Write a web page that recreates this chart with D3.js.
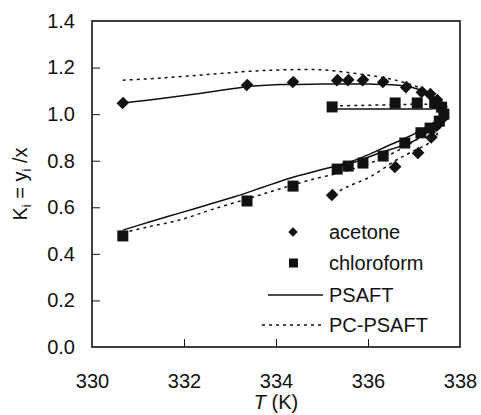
<!DOCTYPE html>
<html>
<head>
<meta charset="utf-8">
<script src="https://cdn.jsdelivr.net/npm/d3@7"></script>
<style>
  body { margin: 0; background: #fff; }
  svg text { font-family: "Liberation Sans", Arial, sans-serif; fill: #111; }
</style>
</head>
<body>
<svg id="chart" width="481" height="415"></svg>
<script>
// experimental points (T in K, K value)
var acetoneT = [330.67, 333.37, 334.37, 335.33, 335.57, 335.89, 336.33, 336.83, 337.17, 337.35,
                337.5, 337.6, 337.62, 337.5, 337.38, 337.09, 336.59, 335.22];
var acetoneK = [1.048, 1.125, 1.138, 1.146, 1.146, 1.146, 1.138, 1.116, 1.095, 1.086,
                1.06, 1.03, 0.98, 0.95, 0.90, 0.833, 0.773, 0.653];
var chloroT = [330.67, 333.37, 334.37, 335.33, 335.57, 335.89, 336.33, 336.8, 337.15, 337.35,
               337.55, 337.65, 337.6, 337.45, 337.07, 336.59, 335.22];
var chloroK = [0.477, 0.627, 0.691, 0.764, 0.777, 0.79, 0.82, 0.876, 0.92, 0.94,
               0.97, 1.0, 1.03, 1.05, 1.048, 1.048, 1.031];

// model curves, listed along the curve
var psaftAcetoneT = [330.67, 331.2, 332.0, 332.63, 333.37, 334.1, 335.0, 336.0, 336.6, 337.0, 337.3, 337.5, 337.62, 337.67,
                     337.62, 337.45, 337.0, 336.2, 335.8, 335.22];
var psaftAcetoneK = [1.048, 1.06, 1.08, 1.097, 1.118, 1.127, 1.129, 1.129, 1.125, 1.112, 1.09, 1.06, 1.03, 1.005,
                     0.98, 0.95, 0.885, 0.83, 0.80, 0.765];
var psaftChloroT = [330.67, 331.3, 331.9, 332.5, 333.1, 333.7, 334.3, 335.0, 335.54, 336.0, 336.41, 336.9, 337.3, 337.55, 337.67,
                    337.6, 337.3, 336.5, 335.22];
var psaftChloroK = [0.502, 0.54, 0.575, 0.61, 0.645, 0.685, 0.725, 0.762, 0.79, 0.825, 0.862, 0.905, 0.95, 0.98, 1.01,
                    1.022, 1.022, 1.022, 1.022];
var pcAcetoneT = [330.67, 331.5, 332.5, 333.5, 334.1, 335.0, 335.9, 336.6, 337.15, 337.45, 337.62, 337.67,
                  337.57, 337.41, 336.9, 336.59, 336.04, 335.54, 335.22];
var pcAcetoneK = [1.146, 1.155, 1.17, 1.185, 1.19, 1.19, 1.17, 1.146, 1.11, 1.07, 1.03, 1.0,
                  0.945, 0.889, 0.833, 0.8, 0.73, 0.687, 0.653];
var pcChloroT = [330.67, 331.2, 331.9, 332.6, 333.37, 334.0, 334.7, 335.6, 336.3, 336.8, 337.2, 337.5, 337.67,
                 337.6, 337.3, 336.5, 335.22];
var pcChloroK = [0.49, 0.515, 0.545, 0.59, 0.636, 0.674, 0.715, 0.76, 0.81, 0.86, 0.91, 0.96, 1.01,
                 1.035, 1.042, 1.04, 1.035];

var xTicks = [330, 332, 334, 336, 338];
var yTicks = [0, 0.2, 0.4, 0.6, 0.8, 1.0, 1.2, 1.4];
var legendLabels = ["acetone", "chloroform", "PSAFT", "PC-PSAFT"];

var plotLeft = 92, plotRight = 460, plotTop = 21, plotBottom = 347;
var svg = d3.select("#chart");

var x = d3.scaleLinear().domain([330, 338]).range([plotLeft, plotRight]);
var y = d3.scaleLinear().domain([0, 1.4]).range([plotBottom, plotTop]);

// frame
svg.append("rect")
    .attr("x", plotLeft).attr("y", plotTop)
    .attr("width", plotRight - plotLeft).attr("height", plotBottom - plotTop)
    .attr("fill", "none").attr("stroke", "#111").attr("stroke-width", 1.6);

// axes with inward ticks
var xAxis = svg.append("g").attr("transform", "translate(0," + plotBottom + ")")
    .call(d3.axisBottom(x).tickValues(xTicks).tickSizeInner(-8).tickSizeOuter(0).tickFormat(d3.format("d")));
var yAxis = svg.append("g").attr("transform", "translate(" + plotLeft + ",0)")
    .call(d3.axisLeft(y).tickValues(yTicks).tickSizeInner(-8).tickSizeOuter(0).tickFormat(d3.format(".1f")));

[xAxis, yAxis].forEach(function(g) {
  g.select(".domain").remove();
  g.selectAll(".tick line").attr("stroke", "#111").attr("stroke-width", 1);
  g.selectAll(".tick text")
    .attr("font-size", 20)
    .attr("font-family", "'Liberation Sans', Arial, sans-serif")
    .attr("fill", "#111");
});
xAxis.selectAll(".tick text").attr("y", 27).attr("dy", "0.71em");
yAxis.selectAll(".tick text").attr("x", -17);
// hide the tick mark at the frame corners
xAxis.selectAll(".tick line").filter(function(d) { return d === 330 || d === 338; }).remove();
yAxis.selectAll(".tick line").filter(function(d) { return d === 0 || d === 1.4; }).remove();

// curves
var line = d3.line()
    .x(function(d) { return x(d[0]); })
    .y(function(d) { return y(d[1]); })
    .curve(d3.curveCatmullRom.alpha(0.5));

function pairs(ts, ks) { return ts.map(function(t, i) { return [t, ks[i]]; }); }

var curves = [
  { d: pairs(psaftAcetoneT, psaftAcetoneK), dash: null },
  { d: pairs(psaftChloroT, psaftChloroK), dash: null },
  { d: pairs(pcAcetoneT, pcAcetoneK), dash: "3,4" },
  { d: pairs(pcChloroT, pcChloroK), dash: "3,4" }
];
svg.selectAll("path.curve")
    .data(curves)
  .enter().append("path")
    .attr("class", "curve")
    .attr("d", function(c) { return line(c.d); })
    .attr("fill", "none")
    .attr("stroke", "#111")
    .attr("stroke-width", 1.5)
    .attr("stroke-dasharray", function(c) { return c.dash; });

// markers: diamonds are squares turned 45 degrees
var diamond = d3.symbol().type(d3.symbolSquare).size(72);
svg.selectAll("path.acetone")
    .data(pairs(acetoneT, acetoneK))
  .enter().append("path")
    .attr("class", "acetone")
    .attr("d", diamond)
    .attr("transform", function(d) { return "translate(" + x(d[0]) + "," + y(d[1]) + ") rotate(45) scale(1,1.1)"; })
    .attr("fill", "#111");

svg.selectAll("rect.chloro")
    .data(pairs(chloroT, chloroK))
  .enter().append("rect")
    .attr("class", "chloro")
    .attr("x", function(d) { return x(d[0]) - 5.5; })
    .attr("y", function(d) { return y(d[1]) - 5.5; })
    .attr("width", 11).attr("height", 11)
    .attr("fill", "#111");

// legend
var leg = svg.append("g");
var rowY = [232, 263, 295, 325];
leg.append("path")
    .attr("d", d3.symbol().type(d3.symbolSquare).size(44))
    .attr("transform", "translate(293," + rowY[0] + ") rotate(45)")
    .attr("fill", "#111");
leg.append("rect")
    .attr("x", 289).attr("y", rowY[1] - 4.5).attr("width", 9).attr("height", 9)
    .attr("fill", "#111");
leg.append("line")
    .attr("x1", 268).attr("x2", 323).attr("y1", rowY[2]).attr("y2", rowY[2])
    .attr("stroke", "#111").attr("stroke-width", 1.5);
leg.append("line")
    .attr("x1", 262).attr("x2", 321).attr("y1", rowY[3]).attr("y2", rowY[3])
    .attr("stroke", "#111").attr("stroke-width", 1.5).attr("stroke-dasharray", "3,4");
leg.selectAll("text")
    .data(legendLabels)
  .enter().append("text")
    .attr("x", 329)
    .attr("y", function(d, i) { return rowY[i]; })
    .attr("dy", "0.36em")
    .attr("font-size", 20)
    .text(function(d) { return d; });

// axis titles
var yl = svg.append("text")
    .attr("transform", "translate(27," + ((plotTop + plotBottom) / 2) + ") rotate(-90)")
    .attr("text-anchor", "middle")
    .attr("font-size", 20);
yl.append("tspan").text("K");
yl.append("tspan").attr("font-size", 13).attr("dy", 4).text("i");
yl.append("tspan").attr("dy", -4).text(" = y");
yl.append("tspan").attr("font-size", 13).attr("dy", 4).text("i");
yl.append("tspan").attr("dy", -4).text(" /x");

var xl = svg.append("text")
    .attr("x", (plotLeft + plotRight) / 2)
    .attr("y", 409)
    .attr("text-anchor", "middle")
    .attr("font-size", 20);
xl.append("tspan").attr("font-style", "italic").text("T");
xl.append("tspan").text(" (K)");
</script>
</body>
</html>
